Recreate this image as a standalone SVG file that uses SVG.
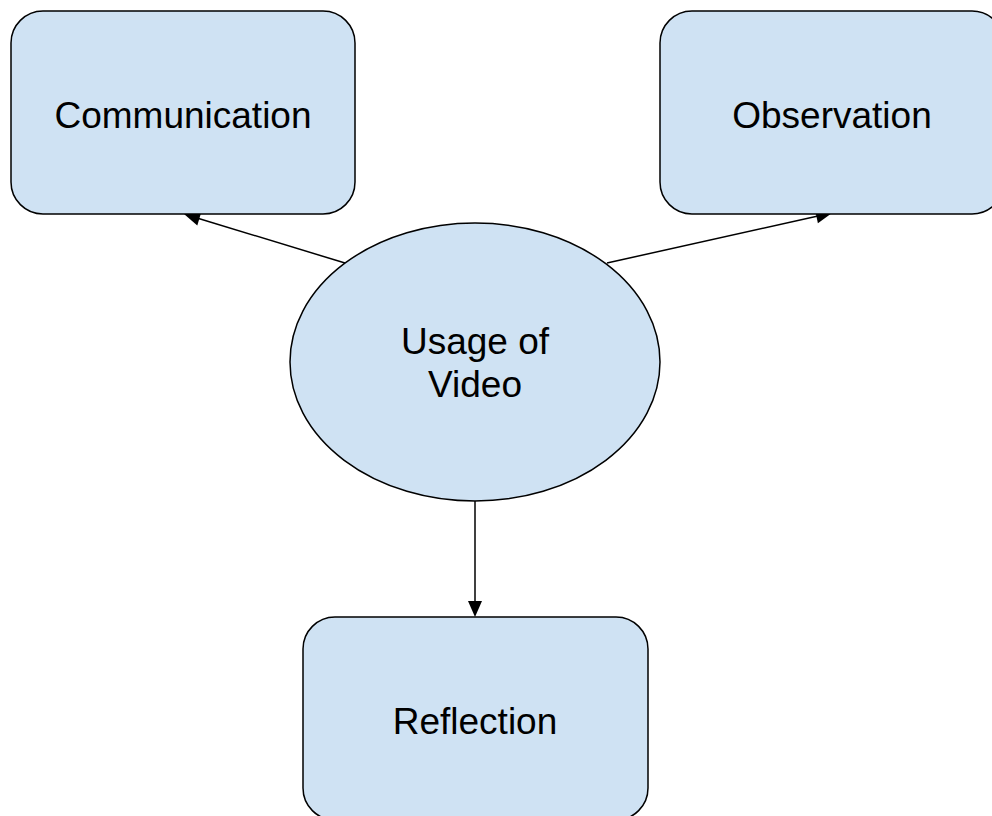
<svg xmlns="http://www.w3.org/2000/svg" width="992" height="816" viewBox="0 0 992 816">
<style>
.box{fill:#cfe2f3;stroke:#000;stroke-width:1.5}
.lbl{font-family:"Liberation Sans",Arial,sans-serif;font-size:37px;fill:#000;text-anchor:middle}
.conn{stroke:#000;stroke-width:1.5;fill:none}
.head{fill:#000;stroke:none}
</style>
<rect width="992" height="816" fill="#fff"/>
<g id="connectors">
<line class="conn" x1="345" y1="263" x2="197" y2="218"/>
<path class="head" d="M184,214 L201.3,212 L197.3,225.4 z"/>
<line class="conn" x1="607" y1="263" x2="818" y2="216"/>
<path class="head" d="M832,213 L817.9,223.3 L814.9,209.6 z"/>
<line class="conn" x1="475" y1="501" x2="475" y2="603"/>
<path class="head" d="M475,617 L468,601 L482,601 z"/>
</g>
<g id="communication">
<rect class="box" x="11" y="11" width="344" height="203" rx="32" ry="32"/>
<text class="lbl" x="183" y="128">Communication</text>
</g>
<g id="observation">
<rect class="box" x="660" y="11" width="344" height="203" rx="32" ry="32"/>
<text class="lbl" x="832" y="128">Observation</text>
</g>
<g id="usage">
<ellipse class="box" cx="475" cy="362" rx="185" ry="139"/>
<text class="lbl" x="475" y="354">Usage of</text>
<text class="lbl" x="475" y="397">Video</text>
</g>
<g id="reflection">
<rect class="box" x="303" y="617" width="345" height="203" rx="32" ry="32"/>
<text class="lbl" x="475" y="734">Reflection</text>
</g>
</svg>
